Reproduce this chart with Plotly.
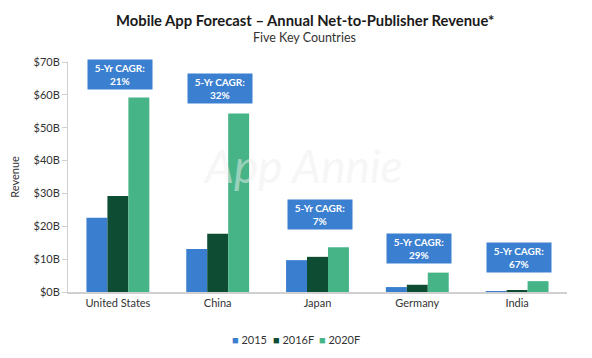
import plotly.graph_objects as go

countries = ["United States", "China", "Japan", "Germany", "India"]
series_names = ["2015", "2016F", "2020F"]
rev_2015 = [22.6, 13.1, 9.7, 1.5, 0.2]
rev_2016f = [29.2, 17.7, 10.7, 2.2, 0.5]
rev_2020f = [59.2, 54.3, 13.6, 5.9, 3.3]
cagr = ["21%", "32%", "7%", "29%", "67%"]
cagr_label_y = [66.1, 61.9, 23.7, 13.2, 10.5]
tick_vals = [0, 10, 20, 30, 40, 50, 60, 70]
tick_text = ["$0B", "$10B", "$20B", "$30B", "$40B", "$50B", "$60B", "$70B"]

colors = ["#3a7fcf", "#0e4c33", "#47b487"]
font = "Lato, 'Open Sans', sans-serif"

fig = go.Figure()
for name, vals, c in zip(series_names, [rev_2015, rev_2016f, rev_2020f], colors):
    fig.add_trace(go.Bar(name=name, x=countries, y=vals, showlegend=False,
                         marker=dict(color=c, line=dict(width=0))))

for ctry, lab, yv in zip(countries, cagr, cagr_label_y):
    fig.add_annotation(x=ctry, y=yv, xref="x", yref="y", xshift=2,
                       text="<b>5-Yr CAGR:<br>" + lab + "</b>", showarrow=False,
                       font=dict(color="white", size=10, family=font),
                       bgcolor="#3b7fd0", width=60, height=25, borderpad=2, align="center")

# watermark
fig.add_annotation(x=0.47, y=0.55, xref="paper", yref="paper", text="<i>App Annie</i>",
                   showarrow=False, font=dict(size=46, color="rgba(238,238,238,0.5)", family=font))

# title and subtitle
fig.add_annotation(x=0.4749, y=1.183, xref="paper", yref="paper", yanchor="middle",
                   text="<b>Mobile App Forecast – Annual Net-to-Publisher Revenue*</b>",
                   showarrow=False, font=dict(size=14.8, color="#1a1a1a", family=font))
fig.add_annotation(x=0.474, y=1.108, xref="paper", yref="paper", yanchor="middle",
                   text="Five Key Countries",
                   showarrow=False, font=dict(size=12.5, color="#333333", family=font))

# legend built from text
legend_x = [0.325, 0.407, 0.499]
for name, c, lx in zip(series_names, colors, legend_x):
    fig.add_annotation(x=lx, y=-0.205, xref="paper", yref="paper", xanchor="left", yanchor="middle",
                       text="<span style='color:" + c + "'>■</span> " + name,
                       showarrow=False, font=dict(size=11, color="#333333", family=font))

fig.update_layout(
    width=584, height=350,
    margin=dict(l=60, r=25, t=54, b=66),
    paper_bgcolor="white", plot_bgcolor="white",
    barmode="group", bargap=0.37, bargroupgap=0,
    font=dict(family=font, color="#333333", size=11),
    showlegend=False,
    xaxis=dict(showgrid=False, showline=True, linecolor="#d0d0d0", linewidth=2,
               ticks="", tickfont=dict(size=11, color="#333333"), automargin=False),
    yaxis=dict(range=[0, 70], tickvals=tick_vals, ticktext=tick_text, showgrid=False,
               showline=True, linecolor="#d0d0d0", linewidth=1, ticks="outside",
               ticklen=5, tickcolor="#d0d0d0", zeroline=False, automargin=False,
               title=dict(text="Revenue", font=dict(size=11, color="#333333"), standoff=13),
               tickfont=dict(size=11, color="#333333")),
)

fig.write_html("out.html")
